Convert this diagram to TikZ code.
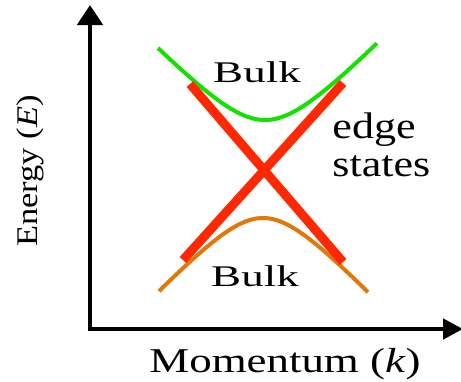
\documentclass[tikz,border=0pt]{standalone}
\usepackage{fontspec}
\setmainfont{Liberation Serif}
\usepackage{tikz}
\usetikzlibrary{arrows.meta}

\definecolor{bandgreen}{RGB}{20,225,0}
\definecolor{bandorange}{RGB}{225,120,10}
\definecolor{edgered}{RGB}{255,40,0}

\begin{document}
\begin{tikzpicture}[
    x=0.5pt, y=-0.5pt,
    axis/.style={line width=2.3pt, {Triangle[length=10pt, width=12.5pt]}-{Triangle[length=10pt, width=10pt]}},
    band/.style={line width=2pt},
    edgeline/.style={line width=4.5pt, edgered},
    bulk/.style={font=\fontsize{15}{17}\selectfont, anchor=base, inner sep=0pt, xscale=1.5},
    lbl/.style={font=\fontsize{17.4}{19}\selectfont, anchor=base, inner sep=0pt}
  ]
    \useasboundingbox (0,0) rectangle (461,381);

    % Axes
    \coordinate (ytip) at (90,5);
    \coordinate (xtip) at (463,329);
    \draw[axis] (ytip) |- (xtip);

    % Bulk bands
    \draw[band, bandgreen] plot[domain=158:377, samples=80] (\x, {170 - 10*sqrt(5^2 + (0.104*(\x-265))^2)});
    \draw[band, bandorange] plot[domain=159:368, samples=80] (\x, {170 + 10*sqrt(4.8^2 + (0.107*(\x-263))^2)});

    % Edge states
    \coordinate (e1a) at (190,84);
    \coordinate (e1b) at (343,262);
    \coordinate (e2a) at (343,83);
    \coordinate (e2b) at (183,260);
    \draw[edgeline] (e1a) -- (e1b);
    \draw[edgeline] (e2a) -- (e2b);

    % Labels
    \node[bulk] (bulkup) at (257,82) {Bulk};
    \node[bulk] (bulkdown) at (255,286) {Bulk};
    \node[lbl, anchor=base west, align=left, font=\fontsize{18.5}{19}\selectfont, xscale=1.19] (edgelbl) at (332,176) {edge\\states};
    \node[lbl, xscale=1.29] (klbl) at (285,372) {Momentum (\textit{k})};
    \node[lbl, font=\fontsize{15}{18}\selectfont, yscale=1.15, rotate=90] (elbl) at (38,171) {Energy (\textit{E})};
  \end{tikzpicture}
\end{document}
